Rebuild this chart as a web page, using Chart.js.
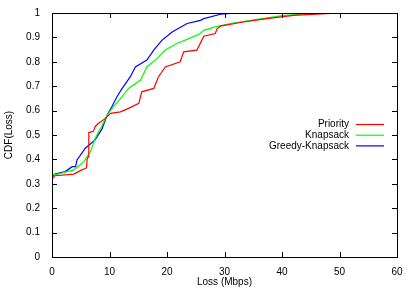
<!DOCTYPE html>
<html>
<head>
<meta charset="utf-8">
<script src="https://cdn.jsdelivr.net/npm/chart.js@4/dist/chart.umd.min.js"></script>
<style>
  body { margin: 0; background: #fff; }
  canvas { display: block; }
</style>
</head>
<body>
<canvas id="cdfChart" width="415" height="291"></canvas>
<script>
// CDF of loss
const seriesLabels = ['Priority', 'Knapsack', 'Greedy-Knapsack'];
const seriesColors = ['#ff0000', '#00ff00', '#0000ff'];

const priorityX = [0, 0, 0.5, 3.8, 5, 6.0, 6.1, 6.3, 6.4, 7.2, 7.5, 8.1, 9.3, 10.2, 11.9, 13.3, 15.1, 15.6, 17.7, 18.5, 19.7, 22.3, 22.9, 25.2, 26.4, 28.4, 28.7, 29.3, 33, 37.4, 42, 46, 50];
const priorityY = [0, 0.32, 0.333, 0.34, 0.355, 0.365, 0.40, 0.41, 0.51, 0.515, 0.534, 0.548, 0.568, 0.589, 0.595, 0.609, 0.63, 0.677, 0.691, 0.738, 0.779, 0.8, 0.841, 0.848, 0.905, 0.916, 0.935, 0.946, 0.962, 0.977, 0.99, 0.995, 1];

const knapsackX = [0, 0, 1, 3.8, 4.2, 5.5, 6.7, 7.5, 8.5, 9.6, 10.7, 12.2, 13.3, 15.4, 16.5, 18.3, 19.7, 21.7, 23.8, 25.8, 26.4, 28.4, 31, 34.5, 40.3, 45, 51.3];
const knapsackY = [0, 0.336, 0.34, 0.357, 0.365, 0.39, 0.432, 0.486, 0.53, 0.582, 0.616, 0.657, 0.691, 0.725, 0.779, 0.814, 0.848, 0.875, 0.895, 0.916, 0.929, 0.943, 0.957, 0.97, 0.99, 0.997, 1];

const greedyX = [0, 0, 0.5, 2.3, 3.5, 4.1, 4.35, 5.8, 7.5, 8.7, 9.6, 10.4, 11.3, 12.2, 13.6, 14.5, 16.5, 17.7, 19.1, 20.9, 23.5, 25.8, 26.4, 29.3, 31, 32.2];
const greedyY = [0, 0.33, 0.34, 0.35, 0.37, 0.37, 0.398, 0.446, 0.48, 0.525, 0.582, 0.616, 0.657, 0.691, 0.738, 0.779, 0.807, 0.848, 0.888, 0.922, 0.957, 0.97, 0.977, 0.995, 0.998, 1];

const xTickStep = 10;
const yTickStep = 0.1;

function toPoints(xs, ys) {
    return xs.map((x, i) => ({ x: x, y: ys[i] }));
}

const FONT = { family: "'Liberation Sans', Arial, sans-serif", size: 10 };

// frame, inward ticks (mirrored) and the gnuplot style key
const gnuplotFrame = {
    id: 'gnuplotFrame',
    afterDraw(chart) {
        const ctx = chart.ctx;
        const a = chart.chartArea;
        const xs = chart.scales.x;
        const ys = chart.scales.y;
        const len = 5;
        ctx.save();
        ctx.strokeStyle = '#000';
        ctx.lineWidth = 1;
        ctx.beginPath();
        xs.ticks.forEach(t => {
            const px = Math.round(xs.getPixelForValue(t.value)) + 0.5;
            ctx.moveTo(px, a.bottom); ctx.lineTo(px, a.bottom - len);
            ctx.moveTo(px, a.top); ctx.lineTo(px, a.top + len);
        });
        ys.ticks.forEach(t => {
            const py = Math.round(ys.getPixelForValue(t.value)) + 0.5;
            ctx.moveTo(a.left, py); ctx.lineTo(a.left + len, py);
            ctx.moveTo(a.right, py); ctx.lineTo(a.right - len, py);
        });
        ctx.stroke();
        ctx.strokeRect(Math.round(a.left) + 0.5, Math.round(a.top) + 0.5,
            Math.round(a.right - a.left), Math.round(a.bottom - a.top));

        // key
        ctx.font = FONT.size + 'px ' + FONT.family;
        ctx.textAlign = 'right';
        ctx.textBaseline = 'middle';
        ctx.fillStyle = '#000';
        const lineEnd = a.right - 13;
        const lineStart = lineEnd - 28;
        chart.data.datasets.forEach((ds, i) => {
            const y = a.top + 111.5 + i * 10.7;
            ctx.fillText(ds.label, lineStart - 7, y);
            ctx.strokeStyle = ds.borderColor;
            ctx.lineWidth = 1.2;
            ctx.beginPath();
            ctx.moveTo(lineStart, y);
            ctx.lineTo(lineEnd, y);
            ctx.stroke();
        });
        ctx.restore();
    }
};

const datasets = [
    toPoints(priorityX, priorityY),
    toPoints(knapsackX, knapsackY),
    toPoints(greedyX, greedyY)
].map((pts, i) => ({
    label: seriesLabels[i],
    data: pts,
    borderColor: seriesColors[i],
    borderWidth: 1.2,
    pointRadius: 0,
    tension: 0,
    fill: false
}));

new Chart(document.getElementById('cdfChart'), {
    type: 'line',
    data: { datasets: datasets },
    options: {
        responsive: false,
        animation: false,
        layout: { padding: { top: 13, right: 18, left: 0, bottom: 0 } },
        plugins: {
            legend: { display: false },
            tooltip: { enabled: false }
        },
        scales: {
            x: {
                type: 'linear',
                min: 0,
                max: 60,
                grid: { display: false },
                border: { display: false },
                ticks: { stepSize: xTickStep, color: '#000', font: FONT, padding: 1, maxRotation: 0 },
                title: { display: true, text: 'Loss (Mbps)', color: '#000', font: FONT, padding: { top: 2, bottom: 3 } },
                afterFit: s => { s.height = 34; }
            },
            y: {
                min: 0,
                max: 1,
                grid: { display: false },
                border: { display: false },
                ticks: {
                    stepSize: yTickStep,
                    color: '#000',
                    font: FONT,
                    padding: 4,
                    callback: v => (v === 0 || v === 1) ? String(v) : v.toFixed(1)
                },
                title: { display: true, text: 'CDF(Loss)', color: '#000', font: FONT, padding: { top: 3, bottom: 0 } },
                afterFit: s => { s.width = 52; }
            }
        }
    },
    plugins: [gnuplotFrame]
});
</script>
</body>
</html>
